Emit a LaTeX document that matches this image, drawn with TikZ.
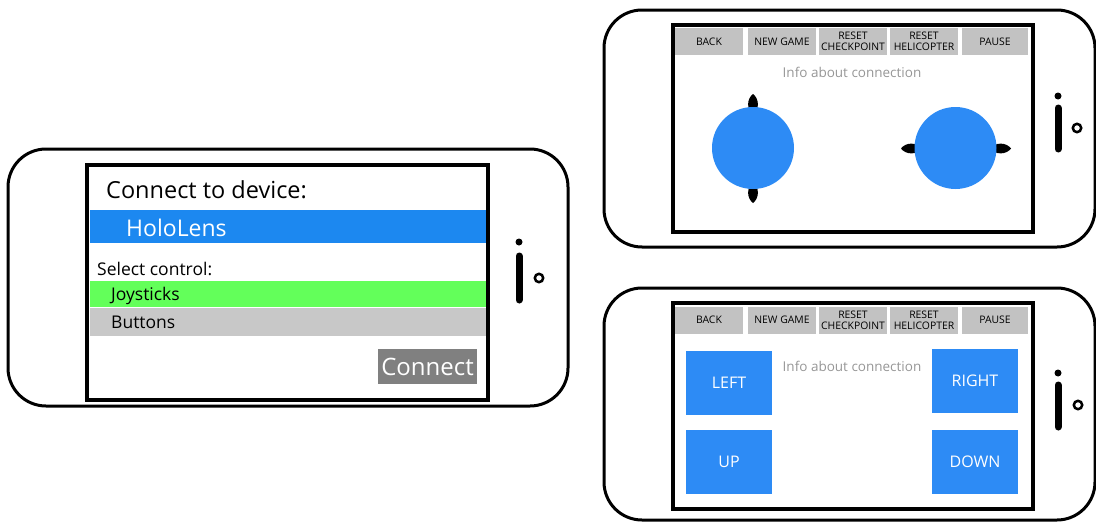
\documentclass[tikz,border=0pt]{standalone}
\usepackage{fontspec}
\setmainfont{Open Sans}
\usepackage{tikz}
\usetikzlibrary{positioning}
\definecolor{holoblue}{RGB}{28,136,240}
\definecolor{padblue}{RGB}{45,139,245}
\definecolor{okgreen}{RGB}{99,255,90}
\definecolor{listgray}{RGB}{200,200,200}
\definecolor{menugray}{RGB}{194,194,194}
\definecolor{btngray}{RGB}{128,128,128}
\definecolor{infogray}{RGB}{150,150,150}
\tikzset{
    shell/.style={rectangle,draw,line width=3pt,rounded corners=38pt},
    screen/.style={rectangle,draw,line width=4pt},
    bar/.style={rectangle,inner sep=0pt,minimum width=396pt},
    menubtn/.style={rectangle,fill=menugray,minimum width=68pt,minimum height=27pt,inner sep=0pt,
        align=center,font=\fontsize{10.4}{11}\selectfont},
    padbtn/.style={rectangle,fill=padblue,minimum width=86pt,minimum height=64pt,text=white,
        font=\fontsize{16}{16}\selectfont},
    stick/.style={circle,fill=padblue,minimum size=82pt,inner sep=0pt},
    info/.style={text=infogray,inner sep=0pt,font=\fontsize{13.5}{13.5}\selectfont},
    txt/.style={anchor=base west,inner sep=0pt},
    nub/.style={fill=black},
    hole/.style={line width=2.5pt},
    slot/.style={line width=7pt,line cap=round},
}
\begin{document}
\begin{tikzpicture}[x=1pt,y=-1pt]
    \useasboundingbox (0,0) rectangle (1096,522);
    % connect screen
    \node[shell,minimum width=560pt,minimum height=257pt] (phoneC) at (288,277.5) {};
    \node[screen,minimum width=401pt,minimum height=235pt] (screenC) at (287.5,282.5) {};
    \node[bar,fill=holoblue,minimum height=33pt] (holoBar) at (287.5,226.5) {};
    \node[bar,fill=okgreen,minimum height=26pt] (joyBar) at (287.5,294) {};
    \node[bar,fill=listgray,minimum height=28pt] (btnBar) at (287.5,322) {};
    \node[txt,font=\fontsize{23.5}{23.5}\selectfont] (title) at (106,198) {Connect to device:};
    \node[txt,text=white,font=\fontsize{23}{23}\selectfont] (holo) at (126,236) {HoloLens};
    \node[txt,font=\fontsize{17.5}{17.5}\selectfont] (select) at (97,275) {Select control:};
    \node[txt,font=\fontsize{17.5}{17.5}\selectfont] (joy) at (111,300) {Joysticks};
    \node[txt,font=\fontsize{17.5}{17.5}\selectfont] (btns) at (111,328) {Buttons};
    \node[rectangle,fill=btngray,minimum width=99pt,minimum height=35pt,text=white,
        font=\fontsize{24}{24}\selectfont] (connect) at (427.5,366.5) {Connect};
    \fill (519,242) circle (3.5pt);
    \draw[slot] (519,256) -- (519,300);
    \draw[hole] (539,278) circle (4.2pt);

    % joystick screen
    \node[shell,minimum width=491pt,minimum height=237pt] (phoneJ) at (849.5,128.5) {};
    \node[screen,minimum width=360pt,minimum height=207pt] (screenJ) at (853,128.5) {};
    \node[menubtn] (backJ) at (709,41.5) {BACK};
    \node[menubtn] (newJ) at (782,41.5) {NEW GAME};
    \node[menubtn] (checkJ) at (853,41.5) {RESET\\CHECKPOINT};
    \node[menubtn] (heliJ) at (924,41.5) {RESET\\HELICOPTER};
    \node[menubtn,minimum width=66pt] (pauseJ) at (995,41.5) {PAUSE};
    \node[info] (infoJ) at (852,72) {Info about connection};
    \fill[nub] (753,94) .. controls (759.5,99) and (759.5,109) .. (753,116)
        .. controls (746.5,109) and (746.5,99) .. (753,94);
    \fill[nub] (753,203) .. controls (759.5,198) and (759.5,188) .. (753,181)
        .. controls (746.5,188) and (746.5,198) .. (753,203);
    \fill[nub] (901,148.5) .. controls (906,142) and (916,142) .. (923,148.5)
        .. controls (916,155) and (906,155) .. (901,148.5);
    \fill[nub] (1011,148.5) .. controls (1006,142) and (996,142) .. (989,148.5)
        .. controls (996,155) and (1006,155) .. (1011,148.5);
    \node[stick] (stickL) at (753,148) {};
    \node[stick] (stickR) at (955.5,148) {};
    \fill (1058,96) circle (3.5pt);
    \draw[slot] (1058,108) -- (1058,149);
    \draw[hole] (1077,128) circle (4.2pt);

    % button screen
    \node[shell,minimum width=491pt,minimum height=232pt] (phoneB) at (849.5,404) {};
    \node[screen,minimum width=360pt,minimum height=206pt] (screenB) at (853,406) {};
    \node[menubtn] (backB) at (709,320) {BACK};
    \node[menubtn] (newB) at (782,320) {NEW GAME};
    \node[menubtn] (checkB) at (853,320) {RESET\\CHECKPOINT};
    \node[menubtn] (heliB) at (924,320) {RESET\\HELICOPTER};
    \node[menubtn,minimum width=66pt] (pauseB) at (995,320) {PAUSE};
    \node[info] (infoB) at (852,366) {Info about connection};
    \node[padbtn] (left) at (729,383) {LEFT};
    \node[padbtn] (up) at (729,462) {UP};
    \node[padbtn] (right) at (975,380.5) {RIGHT};
    \node[padbtn] (down) at (975,462) {DOWN};
    \fill (1058,373) circle (3.5pt);
    \draw[slot] (1058,385) -- (1058,427);
    \draw[hole] (1078,405) circle (4.2pt);
\end{tikzpicture}
\end{document}
